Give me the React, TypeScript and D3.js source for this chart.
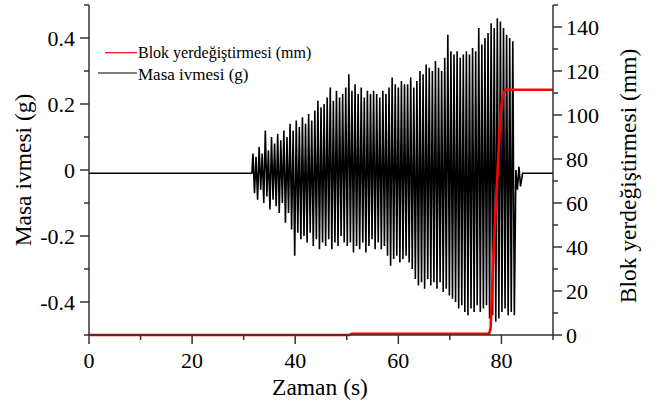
import React from "react";
import * as d3 from "d3";

// ---- data ----
const xTicks = [0, 20, 40, 60, 80];
const accTicks = [-0.4, -0.2, 0, 0.2, 0.4];
const accTickLabels = ["-0.4", "-0.2", "0", "0.2", "0.4"];
const dispTicks = [0, 20, 40, 60, 80, 100, 120, 140];

// acceleration: flat baseline, then oscillation (one cycle per period), then tail
const accBaseline = -0.01;
const oscStart = 31.8; // s
const oscPeriod = 0.6; // s
const accUpperPeaks = [
  0.05, 0.04, 0.07, 0.05, 0.12, 0.06, 0.10, 0.08, 0.11, 0.09,
  0.12, 0.10, 0.14, 0.12, 0.15, 0.13, 0.16, 0.14, 0.17, 0.15,
  0.18, 0.21, 0.19, 0.20, 0.22, 0.25, 0.21, 0.24, 0.22, 0.23,
  0.25, 0.29, 0.24, 0.26, 0.23, 0.25, 0.22, 0.24, 0.23, 0.24,
  0.23, 0.22, 0.24, 0.23, 0.25, 0.28, 0.26, 0.25, 0.27, 0.26,
  0.26, 0.28, 0.25, 0.27, 0.30, 0.29, 0.32, 0.31, 0.30, 0.33,
  0.31, 0.30, 0.34, 0.41, 0.36, 0.35, 0.36, 0.34, 0.35, 0.36,
  0.35, 0.37, 0.36, 0.43, 0.38, 0.40, 0.415, 0.445, 0.43, 0.46,
  0.45, 0.43, 0.41, 0.40, 0.39,
];
const accLowerPeaks = [
  -0.07, -0.09, -0.06, -0.10, -0.08, -0.12, -0.09, -0.11, -0.13, -0.10,
  -0.16, -0.13, -0.18, -0.26, -0.19, -0.21, -0.20, -0.22, -0.19, -0.23,
  -0.21, -0.24, -0.22, -0.23, -0.21, -0.24, -0.22, -0.23, -0.20, -0.22,
  -0.23, -0.22, -0.25, -0.23, -0.24, -0.22, -0.25, -0.23, -0.21, -0.24,
  -0.22, -0.24, -0.23, -0.26, -0.29, -0.27, -0.26, -0.28, -0.27, -0.26,
  -0.28, -0.30, -0.33, -0.35, -0.34, -0.36, -0.33, -0.35, -0.34, -0.36,
  -0.34, -0.37, -0.36, -0.38, -0.39, -0.40, -0.42, -0.41, -0.43, -0.44,
  -0.42, -0.43, -0.41, -0.43, -0.42, -0.41, -0.45, -0.44, -0.46, -0.45,
  -0.43, -0.42, -0.44, -0.43, -0.44,
];
const accTailTimes = [82.8, 83.1, 83.4, 83.7, 84.1];
const accTailValues = [0.0, -0.06, 0.01, -0.05, -0.01];

// block displacement (mm)
const dispTimes = [0, 50.5, 51, 77.6, 77.9, 78.4, 78.9, 79.2, 79.8, 80.2, 80.7, 90];
const dispValues = [0, 0, 0.6, 0.6, 3, 34, 58, 72, 100, 108, 111.5, 111.5];

// ---- layout ----
const W = 663, H = 406;
const L = 89, R = 553, T = 5, B = 335;
const FONT = '"Liberation Serif"';

export default function App() {
  const x = d3.scaleLinear().domain([0, 90]).range([L, R]);
  const yA = d3.scaleLinear().domain([-0.5, 0.5]).range([B, T]);
  const yD = d3.scaleLinear().domain([0, 150]).range([B, T]);

  const accPts: [number, number][] = [[0, accBaseline], [oscStart - 0.2, accBaseline]];
  accUpperPeaks.forEach((u, i) => {
    accPts.push([oscStart + oscPeriod * i, u]);
    accPts.push([oscStart + oscPeriod * i + oscPeriod / 2, accLowerPeaks[i]]);
  });
  accTailTimes.forEach((t, i) => accPts.push([t, accTailValues[i]]));
  accPts.push([90, accBaseline]);

  const accLine = d3.line<[number, number]>().x(d => x(d[0])).y(d => yA(d[1]));
  const dispLine = d3.line<number>().x((_, i) => x(dispTimes[i])).y(d => yD(d));

  const axisColor = "#333";
  const xMinor = d3.range(0, 91, 10);
  const aMinor = d3.range(-5, 6).map(v => v / 10);
  const dMinor = d3.range(0, 151, 10);
  const txt = (size: number) => ({ fontFamily: FONT, fontSize: size + "px" });

  return (
    <div style={{ position: "absolute", left: 0, top: 0 }}>
      <svg width={W} height={H} style={{ display: "block", background: "#fff" }}>
        <rect x={0} y={0} width={W} height={H} fill="#fff" />
        {/* data */}
        <path d={accLine(accPts) || ""} fill="none" stroke="#000" strokeWidth={1.6} strokeLinejoin="miter" strokeMiterlimit={2} />
        <path d={dispLine(dispValues) || ""} fill="none" stroke="#ff0000" strokeWidth={2.6} />

        {/* bottom axis */}
        <line x1={L} x2={R} y1={B} y2={B} stroke={axisColor} strokeWidth={1.5} />
        {xMinor.map(v => (
          <line key={"xm" + v} x1={x(v)} x2={x(v)} y1={B} y2={B + (v % 20 === 0 ? 9 : 5)} stroke={axisColor} strokeWidth={1.5} />
        ))}
        {xTicks.map(v => (
          <text key={"xt" + v} x={x(v)} y={368} textAnchor="middle" style={txt(22)} fill="#000">{v}</text>
        ))}
        <text x={(L + R) / 2 - 1} y={395} textAnchor="middle" style={txt(23.5)} fill="#000">Zaman (s)</text>

        {/* left axis */}
        <line x1={L} x2={L} y1={T} y2={B} stroke={axisColor} strokeWidth={1.5} />
        {aMinor.map(v => (
          <line key={"am" + v} x1={L} x2={L - (Math.round(v * 10) % 2 === 0 ? 9 : 5)} y1={yA(v)} y2={yA(v)} stroke={axisColor} strokeWidth={1.5} />
        ))}
        {accTicks.map((v, i) => (
          <text key={"at" + v} x={75} y={yA(v)} dy="0.35em" textAnchor="end" style={txt(22)} fill="#000">{accTickLabels[i]}</text>
        ))}
        <text transform={`translate(23,170) rotate(-90)`} textAnchor="middle" dy="0.35em" style={txt(23.5)} fill="#000">Masa ivmesi (g)</text>

        {/* right axis */}
        <line x1={R} x2={R} y1={T} y2={B} stroke={axisColor} strokeWidth={1.5} />
        {dMinor.map(v => (
          <line key={"dm" + v} x1={R} x2={R + (v % 20 === 0 ? 9 : 5)} y1={yD(v)} y2={yD(v)} stroke={axisColor} strokeWidth={1.5} />
        ))}
        {dispTicks.map(v => (
          <text key={"dt" + v} x={566} y={yD(v)} dy="0.35em" textAnchor="start" style={txt(22)} fill="#000">{v}</text>
        ))}
        <text transform={`translate(628,176) rotate(-90)`} textAnchor="middle" dy="0.35em" style={txt(23.5)} fill="#000">Blok yerdeğiştirmesi (mm)</text>

        {/* legend */}
        <line x1={105} x2={137} y1={52.7} y2={52.7} stroke="#ff0000" strokeWidth={1.2} />
        <text x={138} y={58} style={txt(16)} fill="#000">Blok yerdeğiştirmesi (mm)</text>
        <line x1={98} x2={137} y1={73} y2={73} stroke="#000" strokeWidth={1.2} />
        <text x={138} y={79.5} style={txt(17)} fill="#000">Masa ivmesi (g)</text>
      </svg>
    </div>
  );
}
